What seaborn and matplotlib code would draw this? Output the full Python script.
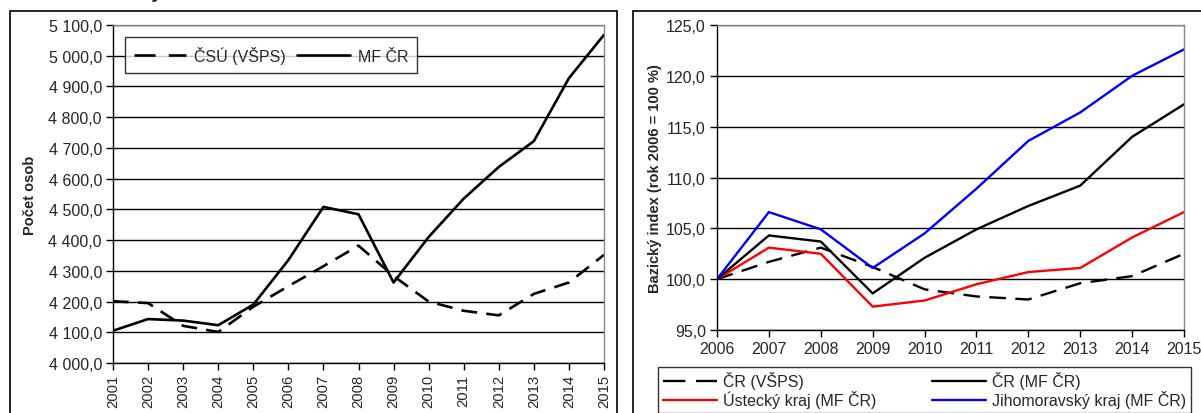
import pandas as pd
import seaborn as sns
import matplotlib.pyplot as plt
from matplotlib.patches import Rectangle
from matplotlib.ticker import FuncFormatter, MultipleLocator

# data - left panel (počet osob)
years_left = list(range(2001, 2016))
csu_vsps = [4201, 4195, 4121, 4101, 4183, 4250, 4315, 4382, 4283, 4200, 4170, 4155, 4225, 4262, 4352]
mf_cr = [4105, 4143, 4138, 4123, 4190, 4335, 4508, 4484, 4262, 4410, 4535, 4638, 4722, 4927, 5068]

# data - right panel (bazický index, 2006 = 100)
years_right = list(range(2006, 2016))
idx_cr_vsps = [100.0, 101.7, 103.1, 101.2, 99.0, 98.3, 98.0, 99.6, 100.3, 102.5]
idx_cr_mf = [100.0, 104.3, 103.7, 98.6, 102.1, 104.9, 107.2, 109.2, 114.0, 117.2]
idx_ustecky = [100.0, 103.1, 102.5, 97.3, 97.9, 99.5, 100.7, 101.1, 104.1, 106.6]
idx_jihomor = [100.0, 106.6, 104.9, 101.1, 104.5, 108.9, 113.6, 116.4, 120.0, 122.6]

sns.set_style("white")
plt.rcParams["font.family"] = ["Liberation Sans", "DejaVu Sans"]

fig = plt.figure(figsize=(12.01, 4.14), dpi=100)
W, H = 1201, 414
FS = 11.5


def fx(px):
    return px / W


def fy(py):
    return 1 - py / H


def cz(v, pos=None):
    return f"{v:,.1f}".replace(",", " ").replace(".", ",")


def style_axes(ax):
    for side in ["top", "right"]:
        ax.spines[side].set_color("#888888")
        ax.spines[side].set_linewidth(1.0)
    for side in ["left", "bottom"]:
        ax.spines[side].set_color("black")
        ax.spines[side].set_linewidth(1.0)
    ax.yaxis.grid(True, color="black", linewidth=1.0)
    ax.xaxis.grid(False)
    ax.set_axisbelow(True)
    ax.tick_params(axis="both", direction="out", length=5, width=1, color="black",
                   left=True, bottom=True, pad=3)


# outer frames
fig.patches.append(Rectangle((fx(10), fy(440)), fx(607), fy(12) - fy(440),
                             transform=fig.transFigure, fill=False,
                             edgecolor="black", linewidth=1.2))
fig.patches.append(Rectangle((fx(633), fy(440)), fx(600), fy(12) - fy(440),
                             transform=fig.transFigure, fill=False,
                             edgecolor="black", linewidth=1.2))
# cut-off title fragment at the top edge (as in the source)
fig.text(fx(158), fy(2), "y", fontsize=14, fontweight="bold", style="italic",
         ha="center", va="bottom")

# left panel
ax1 = fig.add_axes([fx(113), fy(364), fx(604 - 113), fy(26) - fy(364)])
df_left = pd.DataFrame({"rok": years_left, "csu": csu_vsps, "mf": mf_cr})
sns.lineplot(data=df_left, x="rok", y="csu", ax=ax1, color="black", linewidth=1.9,
             label="ČSÚ (VŠPS)")
sns.lineplot(data=df_left, x="rok", y="mf", ax=ax1, color="black", linewidth=1.9,
             label="MF ČR")
ax1.lines[0].set_dashes([6, 3.5])
ax1.set_xlim(2001, 2015)
ax1.set_ylim(4000, 5100)
ax1.yaxis.set_major_locator(MultipleLocator(100))
ax1.yaxis.set_major_formatter(FuncFormatter(cz))
ax1.set_xticks(years_left)
ax1.set_xticklabels([str(y) for y in years_left], rotation=90, fontsize=10.7)
ax1.tick_params(axis="y", labelsize=FS)
ax1.set_xlabel("")
ax1.set_ylabel("Počet osob", fontsize=10.5, fontweight="bold", labelpad=8)
style_axes(ax1)
leg1 = ax1.legend(loc="upper left", bbox_to_anchor=(0.024, 0.964), ncol=2,
                  frameon=True, fancybox=False, edgecolor="black", fontsize=FS,
                  handlelength=3.3, columnspacing=0.7, handletextpad=0.5,
                  borderpad=0.55, borderaxespad=0)
leg1.get_frame().set_linewidth(1.0)
leg1.get_lines()[0].set_dashes([8, 5])

# right panel
ax2 = fig.add_axes([fx(717), fy(331), fx(1184 - 717), fy(26) - fy(331)])
df_right = pd.DataFrame({"rok": years_right, "vsps": idx_cr_vsps, "mf": idx_cr_mf,
                         "ust": idx_ustecky, "jm": idx_jihomor})
sns.lineplot(data=df_right, x="rok", y="vsps", ax=ax2, color="black", linewidth=1.7,
             label="ČR (VŠPS)")
sns.lineplot(data=df_right, x="rok", y="ust", ax=ax2, color="#ff0000", linewidth=1.7,
             label="Ústecký kraj (MF ČR)")
sns.lineplot(data=df_right, x="rok", y="mf", ax=ax2, color="black", linewidth=1.7,
             label="ČR (MF ČR)")
sns.lineplot(data=df_right, x="rok", y="jm", ax=ax2, color="#0000ff", linewidth=1.7,
             label="Jihomoravský kraj (MF ČR)")
ax2.lines[0].set_dashes([7, 4])
ax2.set_xlim(2006, 2015)
ax2.set_ylim(95, 125)
ax2.yaxis.set_major_locator(MultipleLocator(5))
ax2.yaxis.set_major_formatter(FuncFormatter(cz))
ax2.set_xticks(years_right)
ax2.set_xticklabels([str(y) for y in years_right], fontsize=FS)
ax2.tick_params(axis="y", labelsize=FS)
ax2.set_xlabel("")
ax2.set_ylabel("Bazický index (rok 2006 = 100 %)", fontsize=10.5, fontweight="bold",
               labelpad=3)
style_axes(ax2)
leg2 = ax2.legend(loc="upper left", bbox_to_anchor=(fx(658 - 717) / fx(1184 - 717), -0.12),
                  ncol=2, frameon=True, fancybox=False, edgecolor="black", fontsize=FS,
                  handlelength=3.4, columnspacing=3.5, handletextpad=0.35,
                  borderpad=0.3, labelspacing=0.05, borderaxespad=0)
leg2.get_frame().set_linewidth(1.0)
leg2.get_lines()[0].set_dashes([9.5, 4.5])

fig.savefig("out.png", dpi=100)
